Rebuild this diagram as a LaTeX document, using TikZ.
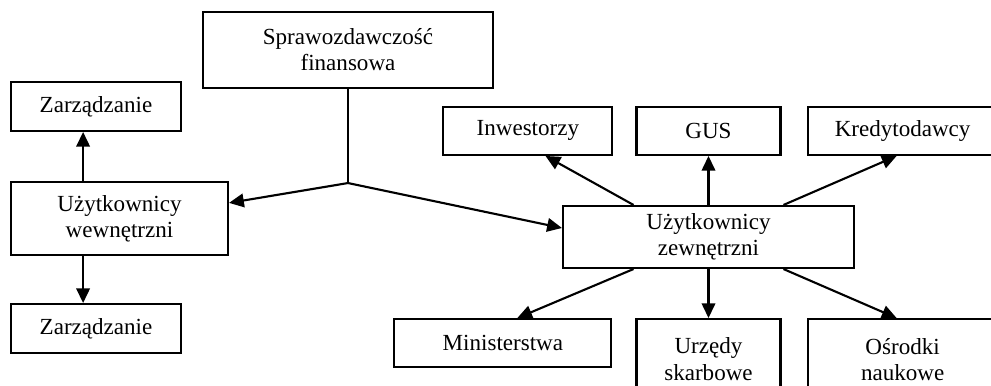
\documentclass[tikz,border=0pt]{standalone}
\usepackage{fontspec}
\setmainfont{Liberation Serif}
\usepackage{tikz}
\usetikzlibrary{positioning}
\usetikzlibrary{arrows.meta}
\newcommand{\boxfont}[0]{\fontsize{16.4}{18.5}\selectfont}

\begin{document}
\begin{tikzpicture}[box/.style={draw, line width=1.5pt, align=center, inner sep=0pt, font=\boxfont},
      arr/.style={line width=1.5pt, -{Triangle[length=0.37cm, width=0.34cm]}}]
      \clip (0,0) rectangle (24.775,-9.65);
      \node(spraw) [box, minimum width=7.25cm, minimum height=1.9cm] at (8.7,-1.25) {Sprawozdawczość\\finansowa};
      \node(wewn) [box, minimum width=5.425cm, minimum height=1.825cm] at (2.9875,-5.4625) {Użytkownicy\\wewnętrzni};
      \node(zar1) [box, minimum width=4.25cm, minimum height=1.225cm, above right=1.225cm and 0cm of wewn.north west] {Zarządzanie};
      \node(zar2) [box, minimum width=4.25cm, minimum height=1.225cm, below right=1.175cm and 0cm of wewn.south west] {Zarządzanie};
      \node(zewn) [box, minimum width=7.275cm, minimum height=1.55cm] at (17.7125,-5.925) {Użytkownicy\\zewnętrzni};
      \node(gus) [box, minimum width=3.6cm, minimum height=1.2cm, above=1.225cm of zewn] {GUS};
      \node(inw) [box, minimum width=4.225cm, minimum height=1.2cm, left=0.55cm of gus] {Inwestorzy};
      \node(kred) [box, minimum width=4.75cm, minimum height=1.2cm, right=0.625cm of gus] {Kredytodawcy};
      \node(urz) [box, minimum width=3.6cm, minimum height=2.0cm, below=1.225cm of zewn] {Urzędy\\skarbowe};
      \node(min) [box, minimum width=5.425cm, minimum height=1.2cm, below left=0cm and 0.575cm of urz.north west] {Ministerstwa};
      \node(osr) [box, minimum width=4.75cm, minimum height=2.0cm, below right=0cm and 0.625cm of urz.north east] {Ośrodki\\naukowe};

      % rozgałęzienie pod sprawozdawczością
      \coordinate(j) at ([yshift=-2.35cm]spraw.south);
      \draw[line width=1.5pt](spraw.south) -- (j);
      \draw[arr](j) -- ([yshift=0.39cm]wewn.east);
      \draw[arr](j) -- ([yshift=0.225cm]zewn.west);

      \coordinate(wu) at ([xshift=-0.91cm]wewn.north);
      \coordinate(wd) at ([xshift=-0.91cm]wewn.south);
      \draw[arr](wu) -- (wu |- zar1.south);
      \draw[arr](wd) -- (wd |- zar2.north);

      \draw[arr]([xshift=-1.875cm]zewn.north) -- ([xshift=0.44cm]inw.south);
      \draw[arr](zewn.north) -- (gus.south);
      \draw[arr]([xshift=1.875cm]zewn.north) -- ([xshift=-0.15cm]kred.south);
      \draw[arr]([xshift=-1.875cm]zewn.south) -- ([xshift=0.36cm]min.north);
      \draw[arr](zewn.south) -- (urz.north);
      \draw[arr]([xshift=1.875cm]zewn.south) -- ([xshift=-0.15cm]osr.north);
\end{tikzpicture}
\end{document}
